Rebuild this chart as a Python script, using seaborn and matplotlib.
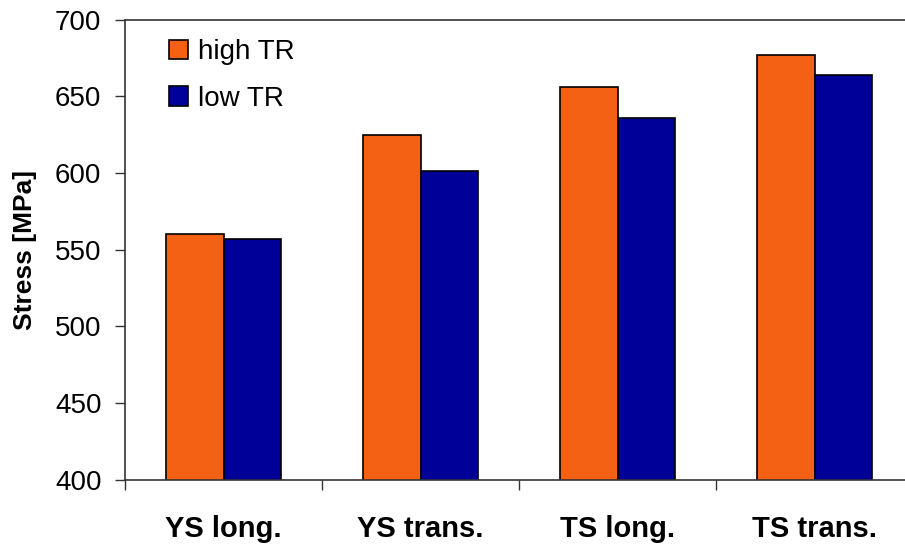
import numpy as np
import pandas as pd
import matplotlib
matplotlib.use("Agg")
import matplotlib.pyplot as plt
import seaborn as sns

categories = ["YS long.", "YS trans.", "TS long.", "TS trans."]
series = ["high TR", "low TR"]
high_tr = [560, 625, 656, 677]
low_tr = [557, 601, 636, 664]
colors = ["#F46115", "#000099"]


def build_frame():
    rows = []
    for cat, h, l in zip(categories, high_tr, low_tr):
        rows.append({"Property": cat, "Condition": series[0], "Stress": h})
        rows.append({"Property": cat, "Condition": series[1], "Stress": l})
    return pd.DataFrame(rows)


def plot(data):
    sns.set_theme(style="white")
    plt.rcParams["font.family"] = ["Liberation Sans", "DejaVu Sans"]

    fig = plt.figure(figsize=(9.05, 5.46), dpi=100)
    ax = fig.add_axes([125 / 905, 1 - 480 / 546, 788 / 905, 460.5 / 546])

    sns.barplot(data=data, x="Property", y="Stress", hue="Condition",
                hue_order=series, order=categories, palette=colors,
                saturation=1, width=0.584, edgecolor="black", linewidth=1.2,
                ax=ax, legend=True)

    ax.set_ylim(400, 700)
    ax.set_xlim(-0.5, 3.5)
    ax.set_yticks(np.arange(400, 701, 50))
    ax.set_xlabel(None)
    ax.set_ylabel("Stress [MPa]", fontsize=19, fontweight="bold",
                  labelpad=13, color="black")

    # tick marks sit between the categories, labels stay at the centres
    ax.set_xticks(np.arange(-0.5, 3.6, 1.0), minor=True)
    ax.tick_params(axis="x", which="major", length=0, pad=25,
                   labelsize=21, labelcolor="black")
    for lbl in ax.get_xticklabels():
        lbl.set_fontweight("bold")
    ax.tick_params(axis="x", which="minor", bottom=True, length=7,
                   width=1, color="#333333", direction="out")
    ax.tick_params(axis="y", left=True, length=7, width=1, color="#333333",
                   direction="out", pad=10, labelsize=20, labelcolor="black")

    for side in ["left", "bottom", "top"]:
        ax.spines[side].set_visible(True)
        ax.spines[side].set_color("#333333")
        ax.spines[side].set_linewidth(1.2)
    ax.spines["right"].set_visible(False)
    ax.grid(False)

    leg = ax.legend(loc="upper left", bbox_to_anchor=(0.024, 1.012),
                    frameon=False, fontsize=20, handlelength=0.7,
                    handleheight=0.7, handletextpad=0.35,
                    labelspacing=0.75)
    for h in leg.legend_handles:
        h.set_edgecolor("black")
        h.set_linewidth(1.2)
    for t in leg.get_texts():
        t.set_color("black")

    fig.savefig("out.png", dpi=100)


if __name__ == '__main__':
    data = build_frame()
    plot(data)
